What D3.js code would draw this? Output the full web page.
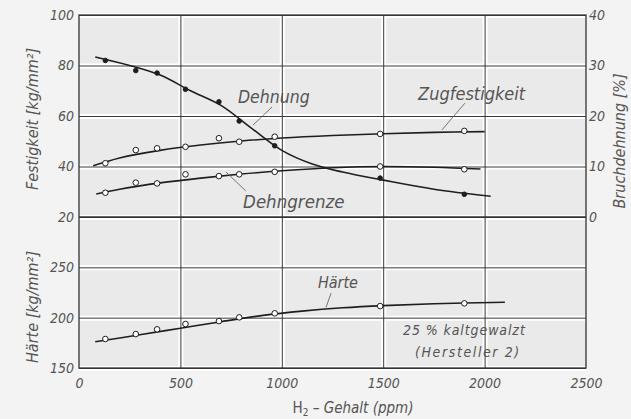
<!DOCTYPE html>
<html><head><meta charset="utf-8">
<script src="https://cdn.jsdelivr.net/npm/d3@7"></script>
<style>
html,body{margin:0;padding:0;background:#f3f3f3;}
svg{display:block;}
text{font-family:"DejaVu Sans Condensed","DejaVu Sans",sans-serif;font-style:italic;fill:#555;}
</style></head><body>
<svg id="chart" width="631" height="419"></svg>
<script>
// hydrogen content of the samples (ppm)
const h2Samples = [130, 280, 385, 525, 690, 790, 965, 1485, 1900];

// measured values per sample
const zugfestigkeit = [41.3, 46.5, 47.2, 47.8, 51.2, 49.8, 51.8, 52.9, 54.1];   // kg/mm²
const dehngrenze    = [29.6, 33.6, 33.3, 36.9, 36.2, 36.9, 37.9, 40.0, 38.9];   // kg/mm²
const dehnung       = [31.0, 29.0, 28.5, 25.3, 22.8, 19.0, 14.1, 7.7, 4.5];     // %
const haerte        = [178.8, 183.7, 188.4, 193.7, 196.6, 200.3, 204.3, 211.5, 214.2]; // kg/mm²

// faired curves drawn through the measurements: [ppm, value]
const zugCurve   = [[70,40.3],[200,43.4],[400,46.4],[600,48.5],[800,50.1],[1000,51.3],[1250,52.3],[1500,53.0],[1750,53.5],[2000,53.8]];
const dehngCurve = [[85,29.1],[200,31.0],[400,33.5],[600,35.4],[800,37.0],[1000,38.3],[1250,39.5],[1500,40.0],[1750,39.7],[1980,39.0]];
const dehnCurve  = [[80,31.7],[250,30.0],[400,28.1],[550,25.0],[700,22.1],[850,17.6],[1000,13.2],[1150,10.5],[1300,8.9],[1500,7.3],[1750,5.5],[2030,4.1]];
const hartCurve  = [[80,176],[300,183],[500,189.5],[700,196],[900,202],[1100,206.5],[1300,209.8],[1500,212],[1750,213.8],[2100,215.3]];

// axis ticks
const xTicks = [0, 500, 1000, 1500, 2000, 2500];
const xTickLabels = ["0", "500", "1000", "1500", "2000", "2500"];
const xGrid = [500, 1000, 1500, 2000];
const festTicks = [20, 40, 60, 80, 100];
const dehnTicks = [0, 10, 20, 30, 40];
const hartTicks = [150, 200, 250];

const svg = d3.select("#chart");
const pLeft = 79, pRight = 586, pTop = 15, pMid = 217, pBottom = 368;

const x = d3.scaleLinear().domain([0, 2500]).range([pLeft, pRight]);
const yFest = d3.scaleLinear().domain([20, 100]).range([pMid, pTop]);
const yDehn = d3.scaleLinear().domain([0, 40]).range([pMid, pTop]);
const yHart = d3.scaleLinear().domain([150, 300]).range([pBottom, pMid]);

// plot background
svg.append("rect").attr("x", pLeft).attr("y", pTop)
  .attr("width", pRight - pLeft).attr("height", pBottom - pTop)
  .attr("fill", "#eaeaea");

// grid: white halo under dark rules
function grid(sel, halo) {
  sel.selectAll(".domain").remove();
  sel.selectAll("line")
    .attr("stroke", halo ? "#ffffff" : "#3a3a3a")
    .attr("stroke-width", halo ? 5 : 1);
  sel.selectAll("text").remove();
}
[true, false].forEach(halo => {
  svg.append("g").attr("transform", `translate(${pLeft},0)`)
    .call(d3.axisLeft(yFest).tickValues(festTicks).tickSize(-(pRight - pLeft)))
    .call(g => grid(g, halo));
  svg.append("g").attr("transform", `translate(${pLeft},0)`)
    .call(d3.axisLeft(yHart).tickValues(hartTicks).tickSize(-(pRight - pLeft)))
    .call(g => grid(g, halo));
  svg.append("g").attr("transform", `translate(0,${pBottom})`)
    .call(d3.axisBottom(x).tickValues(xGrid).tickSize(-(pBottom - pTop)))
    .call(g => grid(g, halo));
});

// frame
svg.append("rect").attr("x", pLeft).attr("y", pTop)
  .attr("width", pRight - pLeft).attr("height", pBottom - pTop)
  .attr("fill", "none").attr("stroke", "#333").attr("stroke-width", 1.3);
svg.append("line").attr("x1", pLeft).attr("x2", pRight)
  .attr("y1", yFest(20)).attr("y2", yFest(20))
  .attr("stroke", "#333").attr("stroke-width", 1.6);

// tick labels
function labels(sel) {
  sel.selectAll(".domain").remove();
  sel.selectAll("line").remove();
  sel.selectAll("text").attr("font-size", 14).style("font-style", "italic").attr("fill", "#555")
    .attr("font-family", '"DejaVu Sans Condensed","DejaVu Sans",sans-serif');
}
svg.append("g").attr("transform", `translate(${pLeft},0)`)
  .call(d3.axisLeft(yFest).tickValues(festTicks).tickSize(0).tickPadding(5))
  .call(labels);
svg.append("g").attr("transform", `translate(${pLeft},0)`)
  .call(d3.axisLeft(yHart).tickValues(hartTicks).tickSize(0).tickPadding(5))
  .call(labels);
svg.append("g").attr("transform", `translate(${pRight},0)`)
  .call(d3.axisRight(yDehn).tickValues(dehnTicks).tickSize(0).tickPadding(3))
  .call(labels);
svg.append("g").attr("transform", `translate(0,${pBottom})`)
  .call(d3.axisBottom(x).tickValues(xTicks).tickSize(0).tickPadding(10)
    .tickFormat((d, i) => xTickLabels[i]))
  .call(labels);

// axis titles
svg.append("text").attr("transform", `translate(38,${(pTop + pMid) / 2 + 3}) rotate(-90)`)
  .attr("text-anchor", "middle").attr("font-size", 16).text("Festigkeit [kg/mm²]");
svg.append("text").attr("transform", `translate(38,307) rotate(-90)`)
  .attr("text-anchor", "middle").attr("font-size", 16).text("Härte [kg/mm²]");
svg.append("text").attr("transform", `translate(625,${(pTop + pMid) / 2 + 25}) rotate(-90)`)
  .attr("text-anchor", "middle").attr("font-size", 16).text("Bruchdehnung [%]");
const xt = svg.append("text").attr("x", 353).attr("y", 413)
  .attr("text-anchor", "middle").attr("font-size", 15);
xt.append("tspan").style("font-style", "normal").text("H");
xt.append("tspan").style("font-style", "normal").attr("font-size", 10).attr("dy", 3).text("2");
xt.append("tspan").attr("dy", -3).text(" – Gehalt  (ppm)");

// curves
const series = [
  { curve: zugCurve,   vals: zugfestigkeit, y: yFest, filled: false },
  { curve: dehngCurve, vals: dehngrenze,    y: yFest, filled: false },
  { curve: dehnCurve,  vals: dehnung,       y: yDehn, filled: true },
  { curve: hartCurve,  vals: haerte,        y: yHart, filled: false }
];
series.forEach(s => {
  const line = d3.line().x(d => x(d[0])).y(d => s.y(d[1])).curve(d3.curveCatmullRom.alpha(0.5));
  svg.append("path").datum(s.curve).attr("d", line)
    .attr("fill", "none").attr("stroke", "#1e1e1e").attr("stroke-width", 1.6);
  svg.append("g").selectAll("circle").data(s.vals).join("circle")
    .attr("cx", (d, i) => x(h2Samples[i])).attr("cy", d => s.y(d))
    .attr("r", s.filled ? 2.3 : 2.8)
    .attr("fill", s.filled ? "#1e1e1e" : "#ffffff")
    .attr("stroke", "#1e1e1e").attr("stroke-width", 1);
});

// curve annotations with leader lines (data coordinates)
const notes = [
  { text: "Dehnung",       size: 17.5, y: yDehn, at: [784, 22.6],   lead: [[952, 21.8], [858, 18.2]] },
  { text: "Zugfestigkeit", size: 18,   y: yFest, at: [1672, 66.3],  lead: [[1903, 65.1], [1790, 54.5]] },
  { text: "Dehngrenze",    size: 18.5, y: yFest, at: [809, 23.6],   lead: [[725, 37.8], [823, 30.3]] },
  { text: "Härte",         size: 16,   y: yHart, at: [1178, 229.4], lead: [[1243, 224.4], [1218, 210.2]] }
];
notes.forEach(n => {
  svg.append("text").attr("x", x(n.at[0])).attr("y", n.y(n.at[1]))
    .attr("font-size", n.size).attr("fill", "#444").text(n.text);
  svg.append("line")
    .attr("x1", x(n.lead[0][0])).attr("y1", n.y(n.lead[0][1]))
    .attr("x2", x(n.lead[1][0])).attr("y2", n.y(n.lead[1][1]))
    .attr("stroke", "#666").attr("stroke-width", 0.9);
});
svg.append("text").attr("x", x(1598)).attr("y", yHart(182.7))
  .attr("font-size", 14).attr("letter-spacing", 0.9)
  .attr("font-family", '"DejaVu Sans",sans-serif').attr("fill", "#444").text("25 % kaltgewalzt");
svg.append("text").attr("x", x(1657)).attr("y", yHart(160.9))
  .attr("font-size", 14).attr("letter-spacing", 1.6)
  .attr("font-family", '"DejaVu Sans",sans-serif').attr("fill", "#444").text("(Hersteller 2)");
</script>
</body></html>
